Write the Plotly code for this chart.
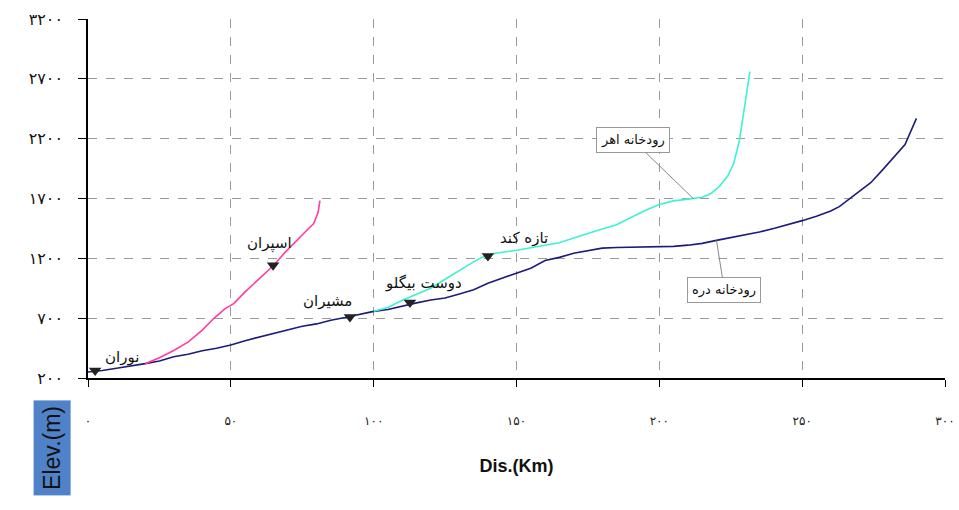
import plotly.graph_objects as go

# ---- data ----
x_ticks = [0, 50, 100, 150, 200, 250, 300]
x_tick_labels = ["۰", "۵۰", "۱۰۰", "۱۵۰", "۲۰۰", "۲۵۰", "۳۰۰"]
y_ticks = [200, 700, 1200, 1700, 2200, 2700, 3200]
y_tick_labels = ["۲۰۰", "۷۰۰", "۱۲۰۰", "۱۷۰۰", "۲۲۰۰", "۲۷۰۰", "۳۲۰۰"]

dareh_km = [0, 5, 10, 15, 20, 25, 30, 35, 40, 45, 50, 55, 60, 65, 70, 75, 80, 85, 90, 95,
            100, 105, 110, 115, 120, 125, 130, 135, 140, 145, 150, 155, 160, 165, 170, 175,
            180, 185, 190, 195, 200, 205, 210, 215, 220, 225, 230, 235, 240, 245, 250, 255,
            260, 263, 266, 270, 274, 278, 282, 286, 290]
dareh_elev = [250, 262, 282, 298, 320, 342, 378, 398, 428, 448, 475, 512, 542, 578, 603, 632,
              652, 683, 705, 728, 757, 773, 802, 828, 852, 868, 902, 938, 992, 1033, 1078, 1118,
              1182, 1208, 1242, 1263, 1285, 1290, 1292, 1295, 1298, 1300, 1310, 1325, 1350,
              1372, 1395, 1420, 1450, 1480, 1515, 1552, 1595, 1632, 1685, 1760, 1832, 1935,
              2040, 2150, 2370]

ahar_km = [100, 105, 110, 115, 120, 125, 130, 135, 138, 142, 150, 158, 165, 170, 175, 180,
           185, 190, 195, 200, 205, 210, 215, 218, 221, 224, 226, 228, 229.5, 230.5, 231.7]
ahar_elev = [757, 790, 850, 900, 950, 1025, 1100, 1170, 1210, 1240, 1267, 1300, 1330, 1370,
             1410, 1445, 1480, 1540, 1600, 1650, 1680, 1695, 1710, 1740, 1800, 1890, 1990,
             2180, 2400, 2550, 2760]

pink_km = [20, 25, 30, 35, 40, 44, 48, 51, 55, 60, 65, 69, 73, 76, 79, 80.5, 81.2]
pink_elev = [320, 370, 430, 500, 600, 697, 780, 822, 920, 1030, 1142, 1250, 1350, 1420,
             1490, 1580, 1683]

place_names = ["نوران", "اسپران", "مشیران", "دوست بیگلو", "تازه کند"]
place_km = [2.5, 64.8, 91.7, 112.7, 140]
place_elev = [262, 1142, 710, 830, 1220]

FONT = "DejaVu Sans"

fig = go.Figure()
fig.add_trace(go.Scatter(x=dareh_km, y=dareh_elev, mode="lines",
                         line=dict(color="#1c1c78", width=1.6), showlegend=False))
fig.add_trace(go.Scatter(x=ahar_km, y=ahar_elev, mode="lines",
                         line=dict(color="#3df2d2", width=1.6), showlegend=False))
fig.add_trace(go.Scatter(x=pink_km, y=pink_elev, mode="lines",
                         line=dict(color="#ff3d9e", width=1.6), showlegend=False))
fig.add_trace(go.Scatter(x=place_km, y=place_elev, mode="markers",
                         marker=dict(symbol="triangle-down", size=11, color="#222222"),
                         showlegend=False))

# place labels
offsets = [(8, 14, "left"), (-4, 22, "center"), (-22, 16, "center"), (14, 20, "center"), (10, 18, "left")]
for n, xk, ye, (dx, dy, anc) in zip(place_names, place_km, place_elev, offsets):
    fig.add_annotation(x=xk, y=ye, text=n, showarrow=False, xshift=dx, yshift=dy,
                       xanchor=anc, font=dict(family=FONT, size=15, color="#111111"))

# callouts
fig.add_annotation(x=212, y=1697, text="رودخانه اهر", showarrow=True, arrowhead=0,
                   arrowcolor="#888888", arrowwidth=1, ax=-61, ay=-59,
                   bgcolor="white", bordercolor="#999999", borderwidth=1, borderpad=4,
                   font=dict(family=FONT, size=13, color="#111111"))
fig.add_annotation(x=220, y=1350, text="رودخانه دره", showarrow=True, arrowhead=0,
                   arrowcolor="#888888", arrowwidth=1, ax=8, ay=50,
                   bgcolor="white", bordercolor="#999999", borderwidth=1, borderpad=4,
                   font=dict(family=FONT, size=13, color="#111111"))

# y title box
fig.add_annotation(xref="paper", yref="paper", x=-0.042, y=-0.061, text="Elev.(m)",
                   textangle=-90, showarrow=False, xanchor="center", yanchor="top",
                   bgcolor="#4f82c8", borderpad=5,
                   font=dict(family="Liberation Sans", size=23, color="#111111"))

fig.update_layout(
    width=959, height=510,
    margin=dict(l=88, r=14, t=19, b=132),
    paper_bgcolor="white", plot_bgcolor="white",
    xaxis=dict(range=[0, 300], tickvals=x_ticks, ticktext=x_tick_labels,
               showgrid=True, gridcolor="#9a9a9a", griddash="dash", gridwidth=1,
               showline=True, linecolor="black", linewidth=1.5,
               ticks="outside", ticklen=7, tickcolor="black",
               ticklabelstandoff=24, automargin=False,
               tickfont=dict(family=FONT, size=12, color="#222222"),
               title=dict(text="<b>Dis.(Km)</b>", standoff=32,
                          font=dict(family="Liberation Sans", size=18, color="#111111")),
               zeroline=False),
    yaxis=dict(range=[200, 3200], tickvals=y_ticks, ticktext=y_tick_labels,
               showgrid=True, gridcolor="#9a9a9a", griddash="dash", gridwidth=1,
               showline=True, linecolor="black", linewidth=1.5,
               ticks="outside", ticklen=8, tickcolor="black",
               ticklabelstandoff=12, automargin=False,
               tickfont=dict(family=FONT, size=16, color="#111111"),
               zeroline=False),
)

fig.write_html("out.html", config={"displayModeBar": False},
               post_script="document.body.style.margin='0';")
